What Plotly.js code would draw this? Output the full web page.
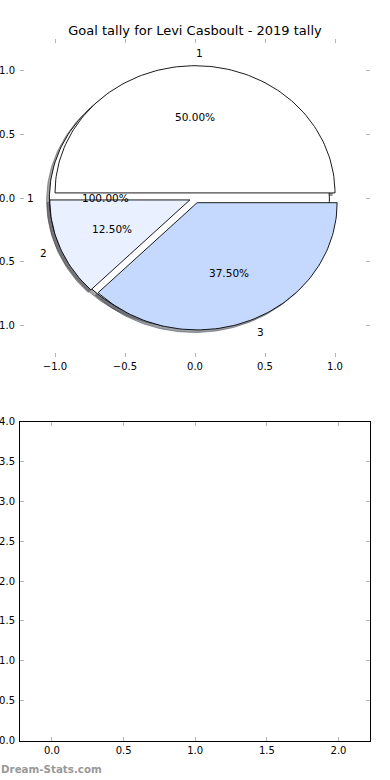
<!DOCTYPE html>
<html><head><meta charset="utf-8">
<script src="https://cdn.plot.ly/plotly-3.0.1.min.js"></script>
<style>html,body{margin:0;padding:0;background:#fff}#chart{width:390px;height:780px}</style>
</head><body><div id="chart"></div>
<script>
const chartTitle = 'Goal tally for Levi Casboult - 2019 tally';
const outerLabels = ['1'];
const outerValues = [1];
const outerColors = ['#ffffff'];
const sliceLabels = ['1', '2', '3'];
const sliceValues = [4, 1, 3];
const sliceColors = ['#ffffff', '#e9f0ff', '#c5d9ff'];
const pieTicks = [-1.0, -0.5, 0.0, 0.5, 1.0];
const emptyXTicks = [0.0, 0.5, 1.0, 1.5, 2.0];
const emptyYTicks = [0.0, 0.5, 1.0, 1.5, 2.0, 2.5, 3.0, 3.5, 4.0];
const watermark = 'Dream-Stats.com';

const EXPLODE = 0.04, SHADOW_DX = -0.02, SHADOW_DY = -0.02, LABEL_DIST = 1.1, PCT_DIST = 0.6;
const FONT = 'DejaVu Sans, sans-serif';

function hexToRgb(h){h=h.replace('#','');return [0,2,4].map(i=>parseInt(h.substr(i,2),16));}

function wedges(values, labels, colors) {
  const total = values.reduce((a, b) => a + b, 0);
  let start = 0;
  return values.map((v, i) => {
    const t1 = start / total * 360, t2 = (start + v) / total * 360;
    start += v;
    const mid = (t1 + t2) / 2 * Math.PI / 180;
    const cx = EXPLODE * Math.cos(mid), cy = EXPLODE * Math.sin(mid);
    const full = (t2 - t1) >= 359.999;
    const xs = [], ys = [];
    if (!full) { xs.push(cx); ys.push(cy); }
    const n = Math.max(8, Math.ceil((t2 - t1) / 1.5));
    for (let k = 0; k <= n; k++) {
      const a = (t1 + (t2 - t1) * k / n) * Math.PI / 180;
      xs.push(cx + Math.cos(a)); ys.push(cy + Math.sin(a));
    }
    if (!full) { xs.push(cx); ys.push(cy); }
    return { xs, ys, cx, cy, mid, frac: v / total, color: colors[i], label: labels[i] };
  });
}

const outer = wedges(outerValues, outerLabels, outerColors);
const inner = wedges(sliceValues, sliceLabels, sliceColors);
const all = outer.concat(inner);

const traces = [];
all.forEach(w => {
  const c = hexToRgb(w.color).map(v => Math.round(v * 0.3));
  const col = `rgba(${c[0]},${c[1]},${c[2]},0.5)`;
  traces.push({
    type: 'scatter', mode: 'lines', xaxis: 'x', yaxis: 'y',
    x: w.xs.map(v => v + SHADOW_DX), y: w.ys.map(v => v + SHADOW_DY),
    fill: 'toself', fillcolor: col, line: { color: col, width: 1 },
    hoverinfo: 'skip', showlegend: false
  });
});
all.forEach(w => {
  traces.push({
    type: 'scatter', mode: 'lines', xaxis: 'x', yaxis: 'y',
    x: w.xs, y: w.ys, fill: 'toself', fillcolor: w.color,
    line: { color: '#000000', width: 0.9 },
    hoverinfo: 'skip', showlegend: false
  });
});
traces.push({ type: 'scatter', mode: 'markers', x: [], y: [], xaxis: 'x2', yaxis: 'y2', showlegend: false });

const annotations = [];
all.forEach(w => {
  const cosm = Math.cos(w.mid), sinm = Math.sin(w.mid);
  const lx = w.cx + LABEL_DIST * cosm, ly = w.cy + LABEL_DIST * sinm;
  annotations.push({
    xref: 'x', yref: 'y', x: lx, y: ly, text: w.label, showarrow: false,
    xanchor: cosm > 0 ? 'left' : 'right', yanchor: 'middle', borderpad: 0,
    font: { family: FONT, size: 10.5, color: '#000' }
  });
  annotations.push({
    xref: 'x', yref: 'y', x: w.cx + PCT_DIST * cosm, y: w.cy + PCT_DIST * sinm,
    text: (w.frac * 100).toFixed(2) + '%', showarrow: false,
    xanchor: 'center', yanchor: 'middle',
    font: { family: FONT, size: 10.5, color: '#000' }
  });
});
annotations.push({
  xref: 'paper', yref: 'paper', x: 0, y: 1 - 769 / 780, xanchor: 'left', yanchor: 'middle',
  text: '<b>' + watermark + '</b>', showarrow: false, borderpad: 0,
  font: { family: FONT, size: 10.3, color: '#999999' }
});

const tickCol = '#b4b4b4';
const layout = {
  width: 390, height: 780,
  margin: { l: 0, r: 0, t: 0, b: 0 },
  paper_bgcolor: '#ffffff', plot_bgcolor: 'rgba(0,0,0,0)',
  font: { family: FONT, size: 10, color: '#000' },
  title: {
    text: chartTitle, x: 0.5, xanchor: 'center', xref: 'paper',
    y: 1 - 30 / 780, yanchor: 'middle', yref: 'paper',
    font: { family: FONT, size: 13, color: '#000' }
  },
  showlegend: false,
  xaxis: {
    domain: [20 / 390, 370 / 390], anchor: 'y', range: [-1.25, 1.25],
    tickvals: pieTicks, tickformat: '.1f', ticks: 'inside', ticklen: 4, tickwidth: 1, tickcolor: tickCol,
    showline: true, linecolor: 'rgba(0,0,0,0)', mirror: 'ticks', showgrid: false, zeroline: false, fixedrange: true
  },
  yaxis: {
    domain: [1 - 357 / 780, 1 - 39 / 780], anchor: 'x', range: [-1.25, 1.25],
    tickvals: pieTicks, tickformat: '.1f', ticks: 'inside', ticklen: 4, tickwidth: 1, tickcolor: tickCol,
    ticklabelstandoff: 2,
    showline: true, linecolor: 'rgba(0,0,0,0)', mirror: 'ticks', showgrid: false, zeroline: false, fixedrange: true
  },
  xaxis2: {
    domain: [20 / 390, 370 / 390], anchor: 'y2', range: [-0.223, 2.22],
    tickvals: emptyXTicks, tickformat: '.1f', ticks: 'inside', ticklen: 4, tickwidth: 1, tickcolor: tickCol,
    showline: true, linecolor: '#000', linewidth: 1, mirror: 'ticks', showgrid: false, zeroline: false, fixedrange: true
  },
  yaxis2: {
    domain: [1 - 740.5 / 780, 1 - 421.5 / 780], anchor: 'x2', range: [0, 4],
    tickvals: emptyYTicks, tickformat: '.1f', ticks: 'inside', ticklen: 4, tickwidth: 1, tickcolor: tickCol,
    ticklabelstandoff: 2,
    showline: true, linecolor: '#000', linewidth: 1, mirror: 'ticks', showgrid: false, zeroline: false, fixedrange: true
  },
  annotations: annotations
};

Plotly.newPlot('chart', traces, layout, { staticPlot: true, displayModeBar: false });
</script>
</body></html>
